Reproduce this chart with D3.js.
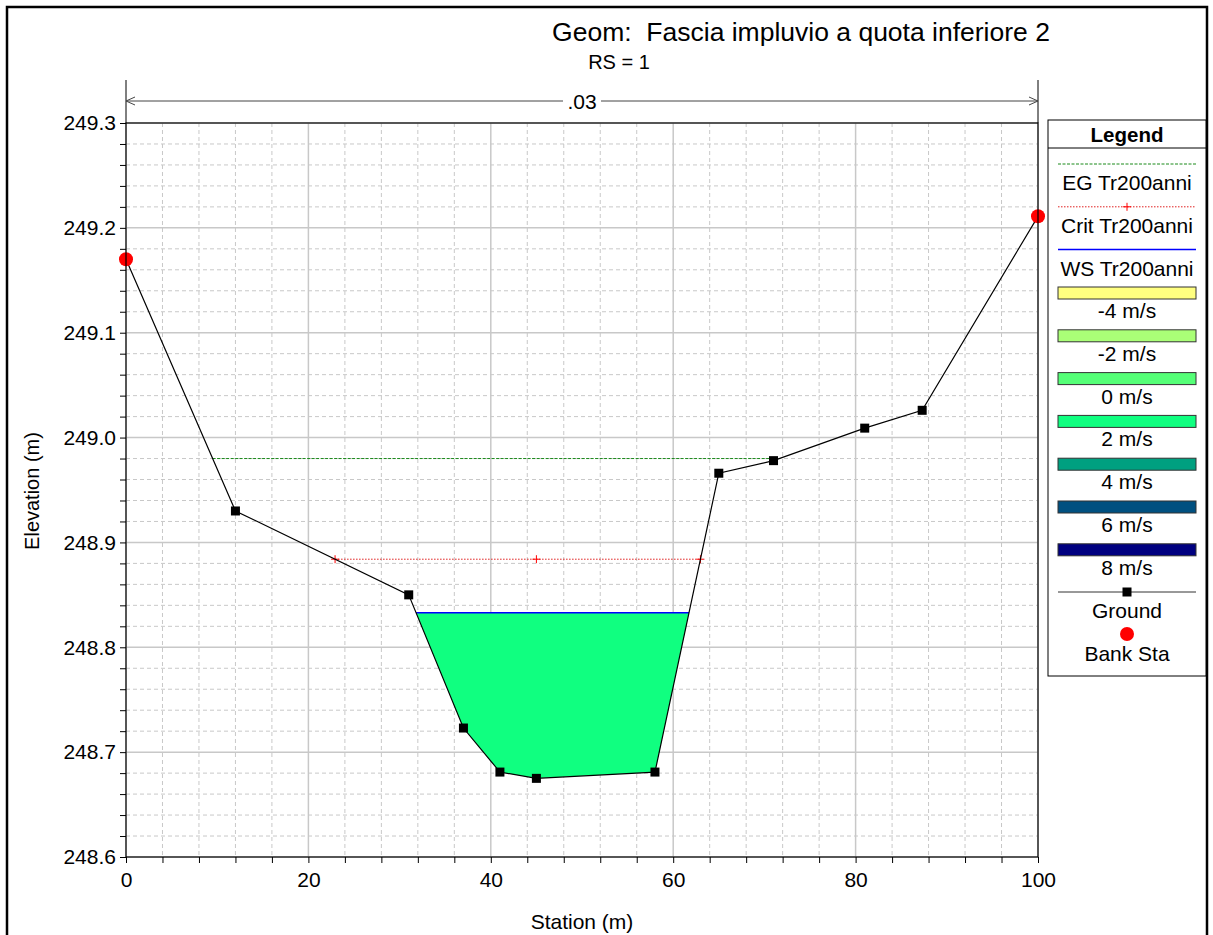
<!DOCTYPE html>
<html><head><meta charset="utf-8">
<script src="https://cdn.jsdelivr.net/npm/d3@7"></script>
<style>
html,body{margin:0;padding:0;background:#fff;}
svg{display:block;font-family:"Liberation Sans",Arial,sans-serif;}
</style></head>
<body><svg id="c" width="1213" height="935"></svg>
<script>
// ---- data ----
const groundStation = [0, 12, 31, 37, 41, 45, 58, 65, 71, 81, 87.3, 100];
const groundElev = [249.17, 248.93, 248.85, 248.723, 248.681, 248.675, 248.681, 248.966, 248.978, 249.009, 249.026, 249.211];
const bankStations = [0, 100];
const wsElev = 248.833;
const critElev = 248.884;
const egElev = 248.98;
const manningN = ".03";
const xTicks = [0, 20, 40, 60, 80, 100];
const yTicks = [248.6, 248.7, 248.8, 248.9, 249.0, 249.1, 249.2, 249.3];
const legendLines = ["EG Tr200anni", "Crit Tr200anni", "WS Tr200anni"];
const velocityLabels = ["-4 m/s", "-2 m/s", "0 m/s", "2 m/s", "4 m/s", "6 m/s", "8 m/s"];
const velocityColors = ["#ffff80", "#aaff77", "#55ff77", "#10ff80", "#00a080", "#005080", "#000080"];
const flowFill = "#10ff80";

const svg = d3.select("#c");
const L = 126, R = 1038, T = 123, B = 857;
const x = d3.scaleLinear().domain([0, 100]).range([L, R]);
const y = d3.scaleLinear().domain([248.6, 249.3]).range([B, T]);
const ground = groundStation.map((s, i) => ({s, e: groundElev[i]}));

// outer frame
svg.append("rect").attr("x", 7).attr("y", 7).attr("width", 1200).attr("height", 940)
  .attr("fill", "none").attr("stroke", "#000").attr("stroke-width", 2.5);

// titles
svg.append("text").attr("x", 801).attr("y", 41).attr("text-anchor", "middle")
  .attr("font-size", 26.5).style("white-space", "pre").text("Geom:  Fascia impluvio a quota inferiore 2");
svg.append("text").attr("x", 619).attr("y", 69).attr("text-anchor", "middle")
  .attr("font-size", 20).text("RS = 1");

// grid
const g = svg.append("g");
const xMinor = d3.range(0, 26).map(i => i * 4);
const yMinor = d3.range(0, 36).map(i => Math.round((248.6 + i * 0.02) * 1000) / 1000);
g.selectAll(".xm").data(xMinor.filter(v => v % 20 !== 0)).join("line")
  .attr("x1", d => x(d)).attr("x2", d => x(d)).attr("y1", T).attr("y2", B)
  .attr("stroke", "#c8c8c8").attr("stroke-dasharray", "4,3");
g.selectAll(".ym").data(yMinor.filter((v, i) => i % 5 !== 0)).join("line")
  .attr("y1", d => y(d)).attr("y2", d => y(d)).attr("x1", L).attr("x2", R)
  .attr("stroke", "#c8c8c8").attr("stroke-dasharray", "4,3");
g.selectAll(".xM").data(xTicks).join("line")
  .attr("x1", d => x(d)).attr("x2", d => x(d)).attr("y1", T).attr("y2", B)
  .attr("stroke", "#c8c8c8").attr("stroke-width", 1.5);
g.selectAll(".yM").data(yTicks).join("line")
  .attr("y1", d => y(d)).attr("y2", d => y(d)).attr("x1", L).attr("x2", R)
  .attr("stroke", "#c8c8c8").attr("stroke-width", 1.5);

// intersections
function crossings(h) {
  let iMin = d3.minIndex(ground, d => d.e);
  let left = null, right = null;
  for (let i = iMin; i > 0; i--) {
    const a = ground[i - 1], b = ground[i];
    if (a.e >= h) { const t = (h - b.e) / (a.e - b.e); left = b.s + t * (a.s - b.s); break; }
  }
  for (let i = iMin; i < ground.length - 1; i++) {
    const a = ground[i], b = ground[i + 1];
    if (b.e >= h) { const t = (h - a.e) / (b.e - a.e); right = a.s + t * (b.s - a.s); break; }
  }
  return [left, right];
}

// water fill
const [wl, wr] = crossings(wsElev);
const poly = [{s: wl, e: wsElev}].concat(ground.filter(d => d.s > wl && d.s < wr)).concat([{s: wr, e: wsElev}]);
svg.append("path").attr("d", d3.line().x(d => x(d.s)).y(d => y(d.e))(poly) + "Z")
  .attr("fill", flowFill).attr("stroke", "none");
svg.append("line").attr("x1", x(wl)).attr("x2", x(wr)).attr("y1", y(wsElev)).attr("y2", y(wsElev))
  .attr("stroke", "#0000ff").attr("stroke-width", 1.5);

// EG
const [el, er] = crossings(egElev);
svg.append("line").attr("x1", x(el)).attr("x2", x(er)).attr("y1", y(egElev)).attr("y2", y(egElev))
  .attr("stroke", "#1a8a1a").attr("stroke-width", 1).attr("stroke-dasharray", "3,1.5");
// Crit
const [cl, cr] = crossings(critElev);
svg.append("line").attr("x1", x(cl)).attr("x2", x(cr)).attr("y1", y(critElev)).attr("y2", y(critElev))
  .attr("stroke", "#e02020").attr("stroke-width", 1).attr("stroke-dasharray", "1.5,1.5");
const critMarks = [cl, ground[d3.minIndex(ground, d => d.e)].s, cr];
critMarks.forEach(s => {
  svg.append("path").attr("d", `M${x(s) - 4},${y(critElev)}h8M${x(s)},${y(critElev) - 4}v8`)
    .attr("stroke", "#ff0000").attr("stroke-width", 1);
});

// ground
svg.append("path").datum(ground).attr("d", d3.line().x(d => x(d.s)).y(d => y(d.e)))
  .attr("fill", "none").attr("stroke", "#000").attr("stroke-width", 1.2);
svg.selectAll(".gm").data(ground.filter(d => !bankStations.includes(d.s))).join("rect")
  .attr("x", d => x(d.s) - 4.5).attr("y", d => y(d.e) - 4.5).attr("width", 9).attr("height", 9).attr("fill", "#000");
svg.selectAll(".bk").data(ground.filter(d => bankStations.includes(d.s))).join("circle")
  .attr("cx", d => x(d.s)).attr("cy", d => y(d.e)).attr("r", 7).attr("fill", "#ff0000");

// frame
svg.append("rect").attr("x", L).attr("y", T).attr("width", R - L).attr("height", B - T)
  .attr("fill", "none").attr("stroke", "#000").attr("stroke-width", 1.2);

// axes
const xAxis = svg.append("g").attr("transform", `translate(0,${B})`)
  .call(d3.axisBottom(x).tickValues(xMinor).tickSize(6).tickFormat(d => xTicks.includes(d) ? d : ""));
const yAxis = svg.append("g").attr("transform", `translate(${L},0)`)
  .call(d3.axisLeft(y).tickValues(yMinor).tickSize(6)
    .tickFormat((d, i) => i % 5 === 0 ? d3.format(".1f")(d) : ""));
[xAxis, yAxis].forEach(a => {
  a.select(".domain").remove();
  a.selectAll("line").attr("stroke", "#000");
  a.selectAll("text").attr("font-size", 21).attr("fill", "#000").attr("font-family", "Liberation Sans, Arial, sans-serif");
});
xAxis.selectAll("text").attr("dy", "1.0em");
yAxis.selectAll("text").attr("dx", "-0.05em");

svg.append("text").attr("x", 582).attr("y", 929).attr("text-anchor", "middle").attr("font-size", 21).text("Station (m)");
svg.append("text").attr("transform", "translate(39,491) rotate(-90)").attr("text-anchor", "middle")
  .attr("font-size", 20).text("Elevation (m)");

// Manning n annotation
const nY = 101;
svg.append("line").attr("x1", x(0)).attr("x2", x(0)).attr("y1", 80).attr("y2", T).attr("stroke", "#000");
svg.append("line").attr("x1", x(100)).attr("x2", x(100)).attr("y1", 80).attr("y2", T).attr("stroke", "#000");
svg.append("line").attr("x1", x(0)).attr("x2", x(50) - 19).attr("y1", nY).attr("y2", nY).attr("stroke", "#444");
svg.append("line").attr("x1", x(50) + 19).attr("x2", x(100)).attr("y1", nY).attr("y2", nY).attr("stroke", "#444");
svg.append("path").attr("d", `M${x(0) + 9},${nY - 4}L${x(0)},${nY}L${x(0) + 9},${nY + 4}`).attr("fill", "none").attr("stroke", "#444");
svg.append("path").attr("d", `M${x(100) - 9},${nY - 4}L${x(100)},${nY}L${x(100) - 9},${nY + 4}`).attr("fill", "none").attr("stroke", "#444");
svg.append("text").attr("x", x(50)).attr("y", nY + 8).attr("text-anchor", "middle").attr("font-size", 21).text(manningN);

// legend
const lg = svg.append("g");
const LX = 1048, LW = 158, LT = 120, LB = 676;
lg.append("rect").attr("x", LX).attr("y", LT).attr("width", LW).attr("height", LB - LT).attr("fill", "#fff").attr("stroke", "#000");
lg.append("line").attr("x1", LX).attr("x2", LX + LW).attr("y1", 148).attr("y2", 148).attr("stroke", "#000");
lg.append("text").attr("x", LX + LW / 2).attr("y", 142).attr("text-anchor", "middle").attr("font-size", 20.5).attr("font-weight", "bold").text("Legend");
const sx1 = 1058, sx2 = 1196, cx = 1127, step = 42.8, fs = 21;
// lines
const lineStyles = [
  {stroke: "#1a8a1a", dash: "3,1.5", w: 1},
  {stroke: "#e02020", dash: "1.5,1.5", w: 1},
  {stroke: "#0000ff", dash: "none", w: 1.5}
];
legendLines.forEach((name, i) => {
  const ly = 164 + i * step;
  lg.append("line").attr("x1", sx1).attr("x2", sx2).attr("y1", ly).attr("y2", ly)
    .attr("stroke", lineStyles[i].stroke).attr("stroke-dasharray", lineStyles[i].dash).attr("stroke-width", lineStyles[i].w);
  if (i === 1) lg.append("path").attr("d", `M${cx - 4},${ly}h8M${cx},${ly - 4}v8`).attr("stroke", "#ff0000");
  lg.append("text").attr("x", cx).attr("y", ly + 26).attr("text-anchor", "middle").attr("font-size", fs).text(name);
});
velocityLabels.forEach((name, i) => {
  const ly = 287 + i * step;
  lg.append("rect").attr("x", sx1).attr("y", ly).attr("width", sx2 - sx1).attr("height", 12)
    .attr("fill", velocityColors[i]).attr("stroke", "#333");
  lg.append("text").attr("x", cx).attr("y", ly + 31).attr("text-anchor", "middle").attr("font-size", fs).text(name);
});
lg.append("line").attr("x1", sx1).attr("x2", sx2).attr("y1", 592).attr("y2", 592).attr("stroke", "#333");
lg.append("rect").attr("x", cx - 4.5).attr("y", 587.5).attr("width", 9).attr("height", 9).attr("fill", "#000");
lg.append("text").attr("x", cx).attr("y", 618).attr("text-anchor", "middle").attr("font-size", fs).text("Ground");
lg.append("circle").attr("cx", cx).attr("cy", 634).attr("r", 7).attr("fill", "#ff0000");
lg.append("text").attr("x", cx).attr("y", 661).attr("text-anchor", "middle").attr("font-size", fs).text("Bank Sta");
</script></body></html>
